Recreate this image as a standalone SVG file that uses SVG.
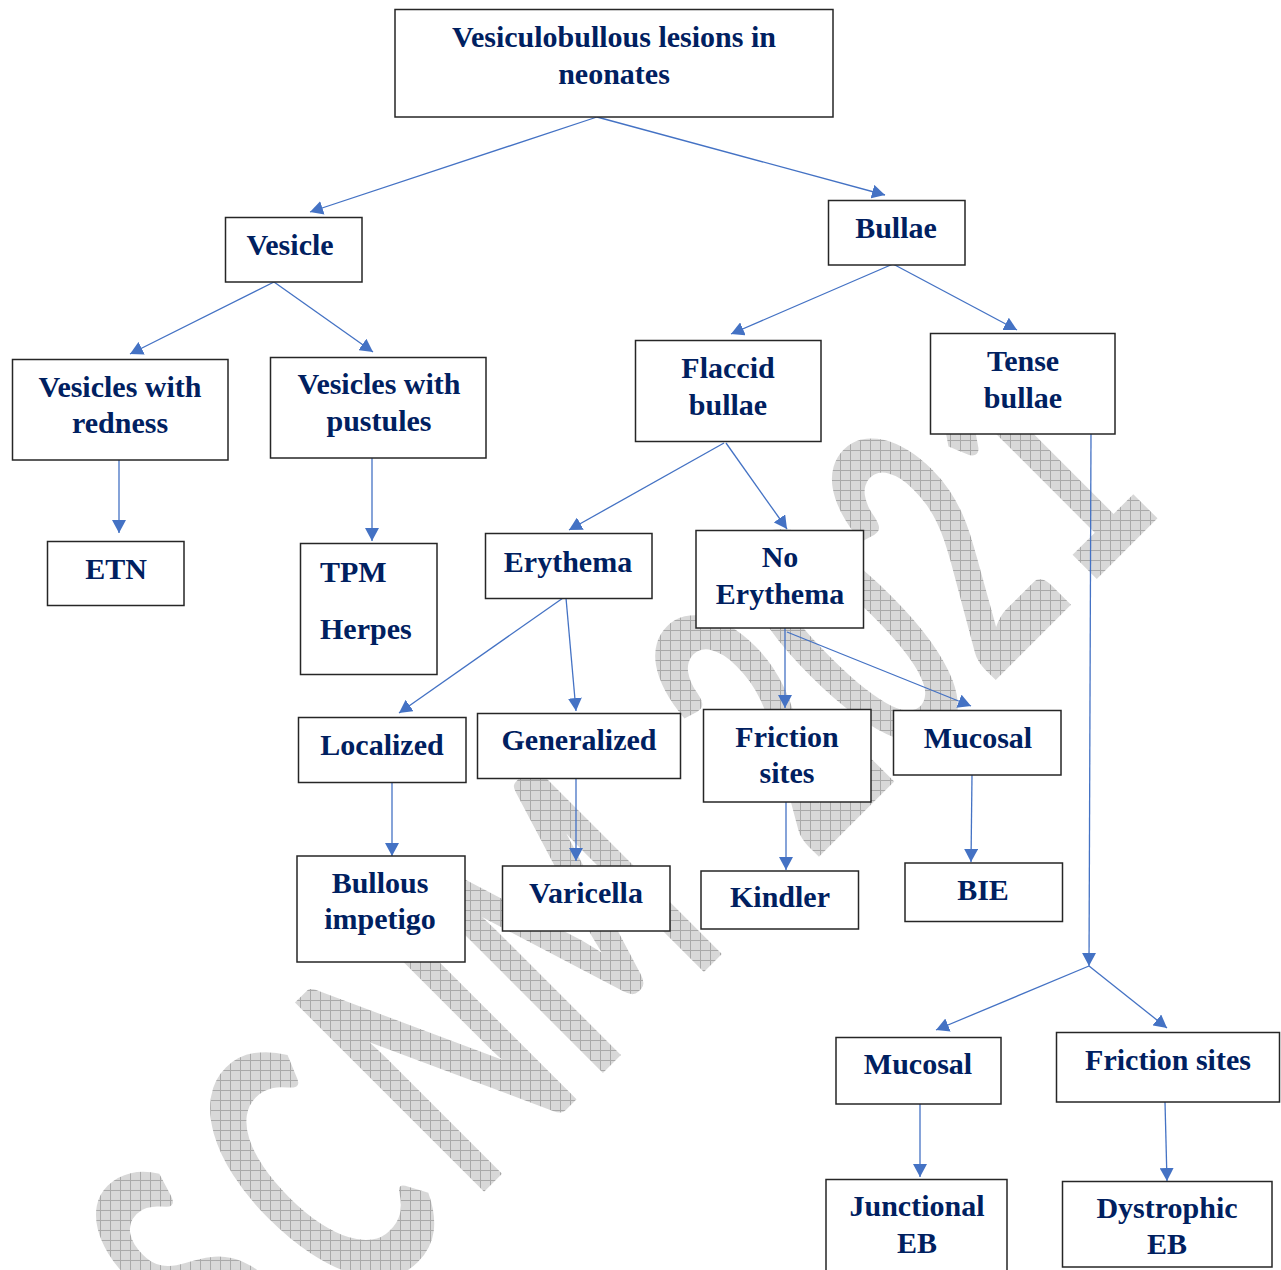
<svg xmlns="http://www.w3.org/2000/svg" width="1281" height="1270" viewBox="0 0 1281 1270">
<style>
.box{fill:#ffffff;stroke:#262626;stroke-width:1.5}
.t{font-family:"Liberation Serif","Times New Roman",serif;font-weight:bold;font-size:30px;fill:#002060;text-anchor:middle}
.tl{text-anchor:start}
.c{stroke:#4472C4;stroke-width:1.3;fill:none;marker-end:url(#ah)}
.wm{font-family:Lato,"Open Sans",sans-serif;font-weight:bold;font-size:370px;fill:url(#hatch);text-anchor:middle}
</style>
<defs>
<marker id="ah" markerUnits="userSpaceOnUse" markerWidth="14" markerHeight="14" refX="13" refY="7" orient="auto">
<path d="M0,0 L13,7 L0,14 z" fill="#4472C4"/>
</marker>
<pattern id="hatch" width="10" height="10" patternUnits="userSpaceOnUse" patternTransform="scale(1.7241,1) rotate(45)">
<rect width="10" height="10" fill="#d8d8d8"/>
<path d="M0,0.5H10M0.5,0V10" stroke="#a9a9a9" stroke-width="1"/>
</pattern>
</defs>
<rect width="1281" height="1270" fill="#ffffff"/>
<g id="watermark">
<text class="wm" transform="rotate(-45) scale(0.58,1)" x="-1320 -1050 -750 -428 -300 47 262 478 695" y="1185">SCNM 2021</text>
</g>
<g id="connectors">
<path class="c" d="M597,117 L310,212"/>
<path class="c" d="M597,117 L885,195"/>
<path class="c" d="M274,282 L130,354"/>
<path class="c" d="M274,282 L373,352"/>
<path class="c" d="M893,264 L731,334"/>
<path class="c" d="M893,264 L1017,330"/>
<path class="c" d="M119,460 L119,533"/>
<path class="c" d="M372,458 L372,541"/>
<path class="c" d="M724,443 L569,530"/>
<path class="c" d="M726,443 L787,529"/>
<path class="c" d="M1091,434 L1089,966"/>
<path class="c" d="M1089,966 L936,1030"/>
<path class="c" d="M1089,966 L1167,1028"/>
<path class="c" d="M563,598 L399,713"/>
<path class="c" d="M566,598 L576,711"/>
<path class="c" d="M785,628 L785,708"/>
<path class="c" d="M787,632 L971,706"/>
<path class="c" d="M392,783 L392,856"/>
<path class="c" d="M576,778 L576,861"/>
<path class="c" d="M786,802 L786,870"/>
<path class="c" d="M972,775 L971,862"/>
<path class="c" d="M920,1104 L920,1177"/>
<path class="c" d="M1165,1102 L1167,1181"/>
</g>
<g id="n-root"><rect class="box" x="395" y="9.5" width="438" height="107.5"/><text class="t" x="614" y="47">Vesiculobullous lesions in</text><text class="t" x="614" y="84">neonates</text></g>
<g id="n-vesicle"><rect class="box" x="225.5" y="217.5" width="136.5" height="64.5"/><text class="t" x="290" y="255">Vesicle</text></g>
<g id="n-bullae"><rect class="box" x="828.5" y="200.5" width="136.5" height="64.5"/><text class="t" x="896" y="238">Bullae</text></g>
<g id="n-redness"><rect class="box" x="12.5" y="359.5" width="215.5" height="100.5"/><text class="t" x="120" y="397">Vesicles with</text><text class="t" x="120" y="433">redness</text></g>
<g id="n-pustules"><rect class="box" x="270.5" y="357.5" width="215.5" height="100.5"/><text class="t" x="379" y="394">Vesicles with</text><text class="t" x="379" y="431">pustules</text></g>
<g id="n-flaccid"><rect class="box" x="635.5" y="340.5" width="185.5" height="101"/><text class="t" x="728" y="378">Flaccid</text><text class="t" x="728" y="415">bullae</text></g>
<g id="n-tense"><rect class="box" x="930.5" y="333.5" width="184.5" height="100.5"/><text class="t" x="1023" y="371">Tense</text><text class="t" x="1023" y="408">bullae</text></g>
<g id="n-etn"><rect class="box" x="47.5" y="541.5" width="136.5" height="64"/><text class="t" x="116" y="579">ETN</text></g>
<g id="n-tpm"><rect class="box" x="300.5" y="543.5" width="136.5" height="131"/><text class="t tl" x="320" y="582">TPM</text><text class="t tl" x="320" y="639">Herpes</text></g>
<g id="n-erythema"><rect class="box" x="485.5" y="533.5" width="166.5" height="65"/><text class="t" x="568" y="572">Erythema</text></g>
<g id="n-noerythema"><rect class="box" x="696" y="530.5" width="167.5" height="97.5"/><text class="t" x="780" y="567">No</text><text class="t" x="780" y="604">Erythema</text></g>
<g id="n-localized"><rect class="box" x="298.5" y="717.5" width="167.5" height="65"/><text class="t" x="382" y="755">Localized</text></g>
<g id="n-generalized"><rect class="box" x="477.5" y="713.5" width="203" height="65"/><text class="t" x="579" y="750">Generalized</text></g>
<g id="n-friction1"><rect class="box" x="703.5" y="709.5" width="167.5" height="92.5"/><text class="t" x="787" y="747">Friction</text><text class="t" x="787" y="783">sites</text></g>
<g id="n-mucosal1"><rect class="box" x="893.5" y="710.5" width="167.5" height="64.5"/><text class="t" x="978" y="748">Mucosal</text></g>
<g id="n-bullous"><rect class="box" x="297" y="856" width="168" height="106"/><text class="t" x="380" y="893">Bullous</text><text class="t" x="380" y="929">impetigo</text></g>
<g id="n-varicella"><rect class="box" x="502.5" y="866" width="167.5" height="65"/><text class="t" x="586" y="903">Varicella</text></g>
<g id="n-kindler"><rect class="box" x="701" y="871" width="157.5" height="58"/><text class="t" x="780" y="907">Kindler</text></g>
<g id="n-bie"><rect class="box" x="905" y="863" width="157.5" height="58.5"/><text class="t" x="983" y="900">BIE</text></g>
<g id="n-mucosal2"><rect class="box" x="836" y="1037.5" width="165" height="66.5"/><text class="t" x="918" y="1074">Mucosal</text></g>
<g id="n-friction2"><rect class="box" x="1056.5" y="1032.5" width="223" height="69.5"/><text class="t" x="1168" y="1070">Friction sites</text></g>
<g id="n-junctional"><rect class="box" x="826" y="1179.5" width="181" height="100"/><text class="t" x="917" y="1216">Junctional</text><text class="t" x="917" y="1253">EB</text></g>
<g id="n-dystrophic"><rect class="box" x="1062.5" y="1181.5" width="209.5" height="85.5"/><text class="t" x="1167" y="1218">Dystrophic</text><text class="t" x="1167" y="1254">EB</text></g>
</svg>
